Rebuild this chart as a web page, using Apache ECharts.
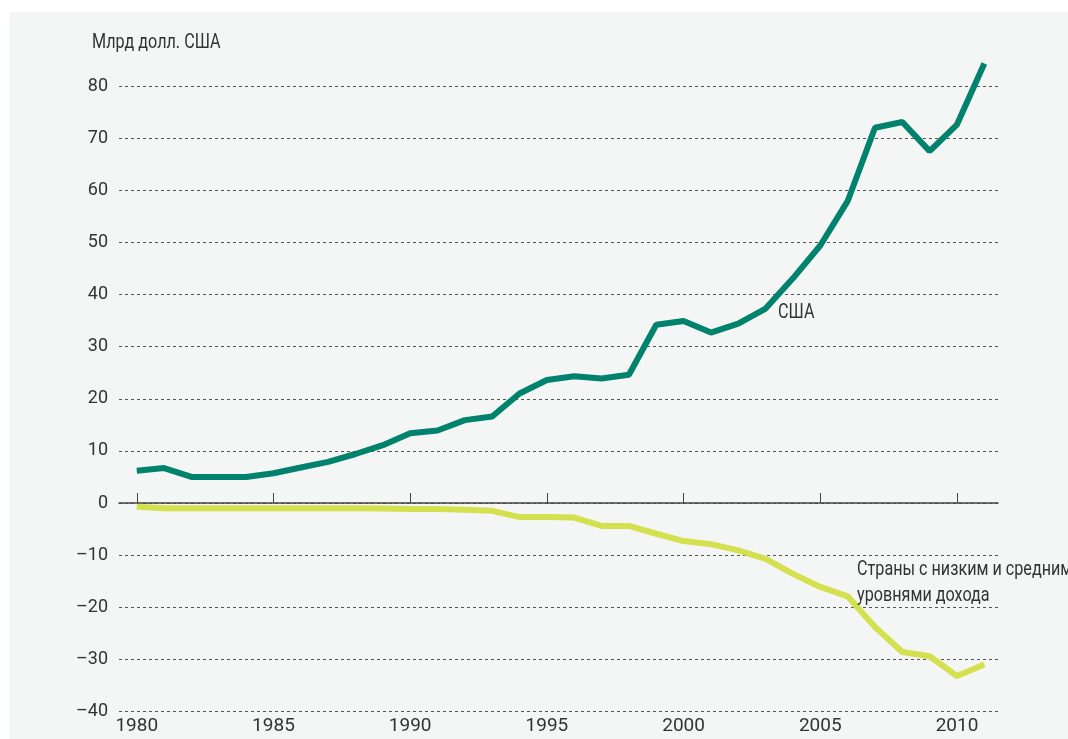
<!DOCTYPE html>
<html>
<head>
<meta charset="utf-8">
<script src="https://cdn.jsdelivr.net/npm/echarts@6/dist/echarts.min.js"></script>
<style>
  html, body { margin: 0; padding: 0; background: #fff; }
  #container { width: 1068px; height: 739px; }
</style>
</head>
<body>
<div id="container"></div>
<script>
var years = [];
for (var y = 1980; y <= 2011; y++) years.push(y);

var usa = [6.2, 6.7, 5.0, 5.0, 5.0, 5.7, 6.8, 7.9, 9.4, 11.1,
    13.4, 13.9, 15.9, 16.6, 21.0, 23.6, 24.3, 23.9, 24.6, 34.2,
    34.9, 32.7, 34.4, 37.3, 43.1, 49.4, 57.9, 72.0, 73.1, 67.5,
    72.6, 84.3];

var lowMiddle = [-0.7, -1.0, -1.0, -1.0, -1.0, -1.0, -1.0, -1.0, -1.0, -1.05,
    -1.15, -1.15, -1.3, -1.5, -2.7, -2.7, -2.8, -4.4, -4.4, -5.9,
    -7.3, -7.9, -9.1, -10.7, -13.6, -16.1, -17.9, -23.8, -28.6, -29.4,
    -33.2, -31.0];

var yearTicks = [1980, 1985, 1990, 1995, 2000, 2005, 2010];

var font = "Roboto, 'Liberation Sans', sans-serif";
var textColor = '#333';

function pairs(vals) {
    return years.map(function (yr, i) { return [yr, vals[i]]; });
}

// condensed-looking annotation text
function note(x, y, txt) {
    return {
        type: 'text', x: x, y: y, scaleX: 0.77, z: 10,
        style: { text: txt, fill: textColor, font: '21px ' + font, lineHeight: 26 }
    };
}

var dom = document.getElementById('container');
var myChart = echarts.init(dom, null, { renderer: 'canvas' });

var option = {
    backgroundColor: '#fff',
    animation: false,
    graphic: [
        { type: 'rect', z: -10, shape: { x: 10, y: 12, width: 1058, height: 727 }, style: { fill: '#f4f5f5' } },
        note(92, 30, 'Млрд долл. США'),
        note(778, 300, 'США'),
        note(857, 557, 'Страны с низким и средним\nуровнями дохода')
    ],
    grid: { left: 119, right: 70, top: 86, bottom: 27.5 },
    xAxis: [
        {
            type: 'value', min: 1979.35, max: 2011.5,
            axisLine: { show: false, onZero: false },
            axisTick: { show: false },
            splitLine: { show: false },
            axisLabel: {
                customValues: yearTicks, margin: 5,
                color: textColor, fontSize: 19, fontFamily: font,
                formatter: function (v) { return String(v); }
            }
        },
        {
            type: 'value', min: 1979.35, max: 2011.5, position: 'bottom',
            axisLine: { show: true, onZero: true, onZeroAxisIndex: 0, lineStyle: { color: '#444', width: 1.5 } },
            axisTick: { show: true, inside: true, length: 10, customValues: yearTicks, lineStyle: { color: '#444', width: 1 } },
            axisLabel: { show: false },
            splitLine: { show: false }
        }
    ],
    yAxis: {
        type: 'value', min: -40, max: 80, interval: 10,
        axisLine: { show: false },
        axisTick: { show: false },
        axisLabel: {
            margin: 11, color: textColor, fontSize: 18, fontFamily: font,
            formatter: function (v) { return v < 0 ? '\u2013' + Math.abs(v) : String(v); }
        },
        splitLine: { lineStyle: { color: '#555', type: [3, 3], width: 1 } }
    },
    series: [
        {
            name: 'США', type: 'line', xAxisIndex: 0, data: pairs(usa),
            symbol: 'none', clip: false,
            lineStyle: { color: '#00826c', width: 6 }, z: 5
        },
        {
            name: 'Страны с низким и средним уровнями дохода', type: 'line', xAxisIndex: 0, data: pairs(lowMiddle),
            symbol: 'none', clip: false,
            lineStyle: { color: '#d4e04e', width: 6 }, z: 4
        }
    ]
};

myChart.setOption(option);
window.addEventListener('resize', myChart.resize);
</script>
</body>
</html>
